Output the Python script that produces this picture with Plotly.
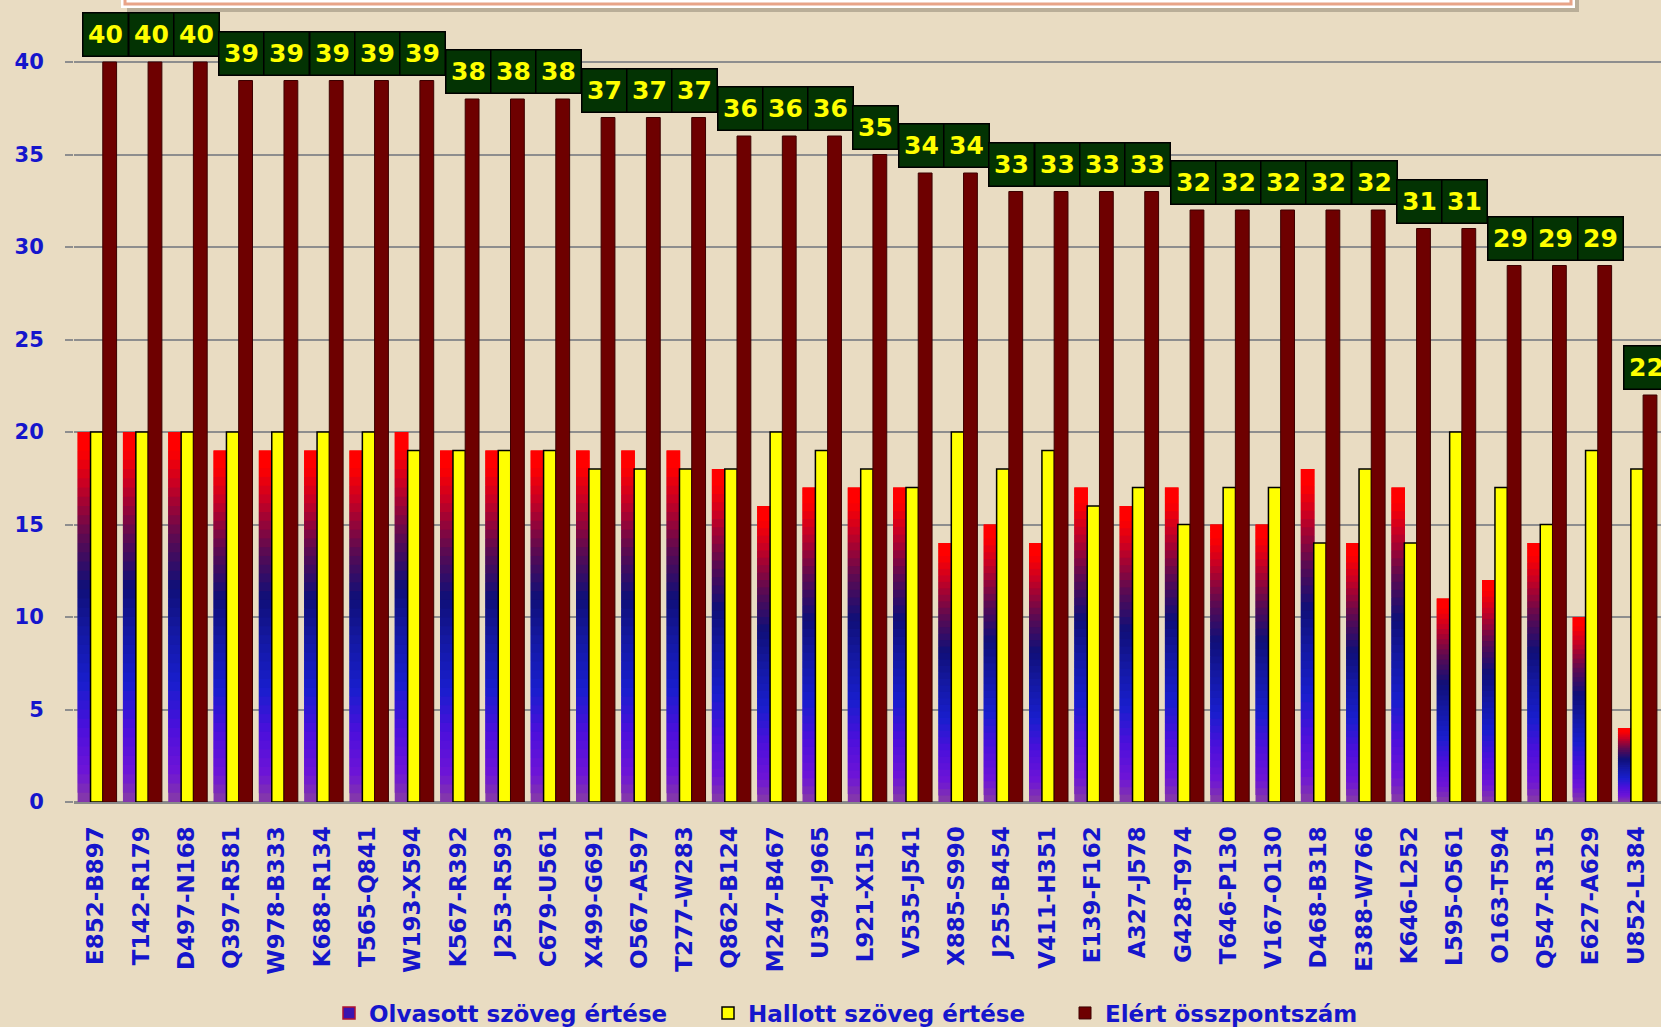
import plotly.graph_objects as go

categories = ["E852-B897", "T142-R179", "D497-N168", "Q397-R581", "W978-B333", "K688-R134",
              "T565-Q841", "W193-X594", "K567-R392", "J253-R593", "C679-U561", "X499-G691",
              "O567-A597", "T277-W283", "Q862-B124", "M247-B467", "U394-J965", "L921-X151",
              "V535-J541", "X885-S990", "J255-B454", "V411-H351", "E139-F162", "A327-J578",
              "G428-T974", "T646-P130", "V167-O130", "D468-B318", "E388-W766", "K646-L252",
              "L595-O561", "O163-T594", "Q547-R315", "E627-A629", "U852-L384"]
olvasott = [20, 20, 20, 19, 19, 19, 19, 20, 19, 19, 19, 19, 19, 19, 18, 16, 17, 17,
            17, 14, 15, 14, 17, 16, 17, 15, 15, 18, 14, 17, 11, 12, 14, 10, 4]
hallott = [20, 20, 20, 20, 20, 20, 20, 19, 19, 19, 19, 18, 18, 18, 18, 20, 19, 18,
           17, 20, 18, 19, 16, 17, 15, 17, 17, 14, 18, 14, 20, 17, 15, 19, 18]
osszpont = [40, 40, 40, 39, 39, 39, 39, 39, 38, 38, 38, 37, 37, 37, 36, 36, 36, 35,
            34, 34, 33, 33, 33, 33, 32, 32, 32, 32, 32, 31, 31, 29, 29, 29, 22]
series_names = ["Olvasott szöveg értése", "Hallott szöveg értése", "Elért összpontszám"]

BG = "#e9dcc2"
BLUE = "#1515cc"
FONT = "DejaVu Sans"

# vertical gradient stops (fraction of bar height from bottom -> rgb)
stops = [(0.00, (135, 60, 165)), (0.08, (110, 20, 215)), (0.20, (75, 15, 220)),
         (0.32, (25, 30, 205)), (0.45, (20, 25, 165)), (0.58, (15, 15, 120)),
         (0.72, (95, 10, 80)), (0.86, (200, 0, 35)), (0.95, (255, 0, 0)), (1.00, (255, 0, 0))]


def grad(f):
    for (f0, c0), (f1, c1) in zip(stops[:-1], stops[1:]):
        if f <= f1:
            t = 0 if f1 == f0 else (f - f0) / (f1 - f0)
            c = [round(a + (b - a) * t) for a, b in zip(c0, c1)]
            return "rgb(%d,%d,%d)" % tuple(c)
    return "rgb(255,0,0)"


N = 40
seg_x, seg_base, seg_y, seg_c = [], [], [], []
for k in range(N):
    for cat, v in zip(categories, olvasott):
        b = v * k / N
        top = min(v, v * (k + 2.0) / N)
        seg_x.append(cat)
        seg_base.append(b)
        seg_y.append(top - b)
        seg_c.append(grad((k + 0.5) / N))

fig = go.Figure()
fig.add_trace(go.Bar(x=seg_x, y=seg_y, base=seg_base, offset=-0.40, width=0.30,
                     marker=dict(color=seg_c, line=dict(width=0)), showlegend=False,
                     hoverinfo="skip"))
# legend entry for the gradient series
fig.add_trace(go.Bar(x=categories, y=[None] * len(categories), name=series_names[0],
                     legend="legend",
                     marker=dict(color="#3a14b0", line=dict(color="#b01030", width=1.5))))
fig.add_trace(go.Bar(x=categories, y=hallott, name=series_names[1], offset=-0.115, width=0.275,
                     legend="legend2",
                     marker=dict(color="#ffff00", line=dict(color="#000000", width=1.5))))
fig.add_trace(go.Bar(x=categories, y=osszpont, name=series_names[2], offset=0.155, width=0.305,
                     legend="legend3",
                     marker=dict(color="#6e0000", line=dict(color="#3c0000", width=1))))

annotations = []
for cat, v in zip(categories, osszpont):
    annotations.append(dict(x=cat, y=v, xref="x", yref="y", text="<b>%d</b>" % v,
                            showarrow=False, xanchor="center", yanchor="bottom",
                            xshift=10, yshift=5, width=40, height=38,
                            bgcolor="#033303", bordercolor="#000000", borderwidth=1.5,
                            borderpad=2,
                            font=dict(family=FONT, size=25, color="#ffff00")))

L, B = 74, 225
PW = 1661 - L
PH = 1027 - B


def px(x):
    return (x - L) / PW


def py(y):
    return (PH - y) / PH


shapes = [
    dict(type="rect", xref="paper", yref="paper", x0=px(127), x1=px(1579), y0=py(12), y1=1.05,
         fillcolor="#b9ae98", line=dict(width=0), layer="above"),
    dict(type="rect", xref="paper", yref="paper", x0=px(121), x1=px(1575), y0=py(8), y1=1.05,
         fillcolor="#ffffff", line=dict(width=0), layer="above"),
    dict(type="rect", xref="paper", yref="paper", x0=px(125), x1=px(1571), y0=py(4), y1=1.05,
         fillcolor="#ffffff", line=dict(color="#e8a488", width=3), layer="above"),
]

legfont = dict(family=FONT, size=23, color=BLUE, weight="bold")
leg_text_x = [369, 748, 1105]


def leg(i):
    return dict(orientation="h", x=px(leg_text_x[i] - 40), xanchor="left", y=py(1013),
                yanchor="middle", bgcolor="rgba(0,0,0,0)", font=legfont)


fig.update_layout(
    width=1661, height=1027,
    paper_bgcolor=BG, plot_bgcolor=BG,
    barmode="overlay",
    margin=dict(l=L, r=0, t=0, b=B, autoexpand=False),
    font=dict(family=FONT, color=BLUE),
    showlegend=True,
    legend=leg(0), legend2=leg(1), legend3=leg(2),
    annotations=annotations,
    shapes=shapes,
    xaxis=dict(type="category", categoryorder="array", categoryarray=categories,
               range=[-0.48, 34.55], tickangle=-90, ticks="", showgrid=False,
               showline=True, linecolor="#8a8a8a", linewidth=2,
               ticklabelstandoff=13,
               tickfont=dict(family=FONT, size=23, color=BLUE, weight="bold")),
    yaxis=dict(range=[0, PH / 18.5], tickvals=[0, 5, 10, 15, 20, 25, 30, 35, 40],
               showgrid=True, gridcolor="#8e8e8e", gridwidth=1.5,
               zeroline=True, zerolinecolor="#8a8a8a", zerolinewidth=2,
               ticks="outside", ticklen=8, tickcolor="#8e8e8e", tickwidth=1.5,
               ticklabelstandoff=17,
               tickfont=dict(family=FONT, size=21, color=BLUE, weight="bold")),
)

fig.write_html("out.html", config={"displayModeBar": False},
               post_script="document.body.style.margin='0';document.body.style.overflow='hidden';")
